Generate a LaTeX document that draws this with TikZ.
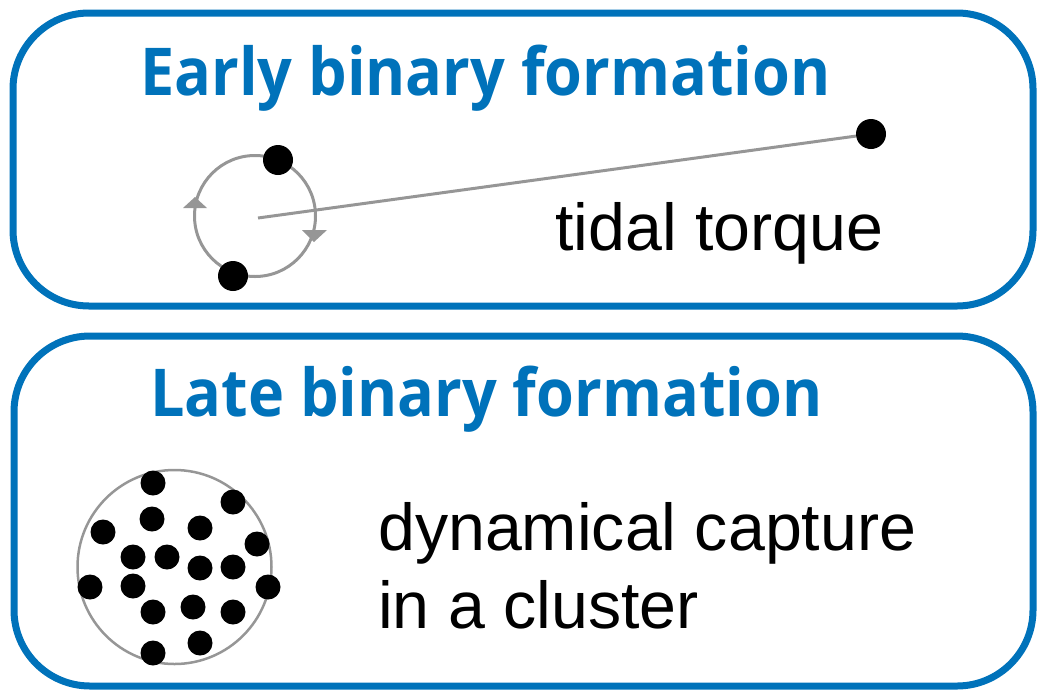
\documentclass[tikz,border=0pt]{standalone}
\usepackage{graphicx}
\usepackage{fontspec}
\setmainfont{Liberation Sans}
\newfontfamily\titlefont{Open Sans}
\definecolor{boxblue}{RGB}{0,114,186}
\definecolor{orbgrey}{RGB}{150,150,150}
\newcommand{\ttlsq}[1]{\scalebox{0.926}[1]{#1}}
\tikzset{
  panel/.style={draw=boxblue, line width=7pt, rounded corners=76pt},
  title/.style={anchor=base west, inner sep=0pt, text=boxblue, font=\titlefont\bfseries\fontsize{66}{70}\selectfont},
  label/.style={anchor=base west, inner sep=0pt, font=\fontsize{66.3}{78}\selectfont},
  star/.style={circle, fill=black, inner sep=0pt, minimum size=30pt},
  cstar/.style={circle, fill=black, inner sep=0pt, minimum size=25pt},
  greyline/.style={draw=orbgrey, line width=3pt},
}
\begin{document}
\begin{tikzpicture}[x=1pt,y=-1pt]
\useasboundingbox (0,0) rectangle (1040,691);
% panels
\draw[panel] (13,13) rectangle (1033,306);
\draw[panel] (14,336) rectangle (1033,686);
% titles
\node[title] (t1) at (140,95) {\ttlsq{Early binary formation}};
\node[title] (t2) at (150,416) {\ttlsq{Late binary formation}};
% early: orbit
\node[circle, greyline, minimum size=121pt, inner sep=0pt] (orbit) at (255,216) {};
\coordinate (oc) at (258,218);
\node[star] (far) at (871,134) {};
\draw[greyline] (oc) -- (far);
\fill[orbgrey] (195,197) -- (183,208) -- (207,208) -- cycle;
\fill[orbgrey] (314,242) -- (302,230) -- (327,230) -- cycle;
\node[star] (s1) at (278,160) {};
\node[star] (s2) at (233,276) {};
\node[label] (tt) at (555,250) {tidal torque};
% late: cluster
\node[circle, greyline, line width=2.5pt, minimum size=194pt, inner sep=0pt] (cl) at (174.5,567) {};
\foreach \x/\y [count=\i] in {153/483, 233/502, 152/519, 103/532, 200/528, 257/544, 133/557, 167/557, 200/568, 233/567, 90/587, 133/586, 268/587, 153/612, 193/607, 233/612, 200/643, 153/653}
  \node[cstar] (c\i) at (\x,\y) {};
\node[label] (dc) at (378,550) {dynamical capture};
\node[label] (ic) at (378,628) {in a cluster};
\end{tikzpicture}
\end{document}
